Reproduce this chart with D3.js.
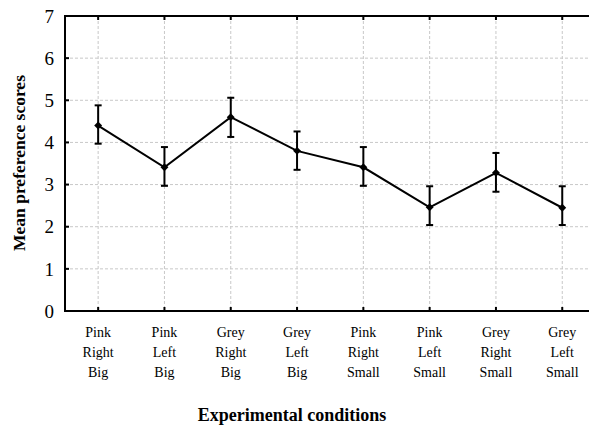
<!DOCTYPE html>
<html><head><meta charset="utf-8">
<script src="https://cdn.jsdelivr.net/npm/d3@7"></script>
<style>body{margin:0;background:#fff}svg{display:block}text{font-family:'Liberation Serif','Times New Roman',serif}</style>
</head><body>
<svg id="c" width="589" height="426"></svg>
<script>
const categories = [
  ["Pink","Right","Big"],["Pink","Left","Big"],["Grey","Right","Big"],["Grey","Left","Big"],
  ["Pink","Right","Small"],["Pink","Left","Small"],["Grey","Right","Small"],["Grey","Left","Small"]
];
const means = [4.40, 3.41, 4.60, 3.80, 3.41, 2.46, 3.28, 2.45];
const upper = [4.88, 3.89, 5.06, 4.26, 3.89, 2.96, 3.75, 2.96];
const lower = [3.97, 2.97, 4.13, 3.35, 2.97, 2.04, 2.83, 2.04];
const yTicks = [0,1,2,3,4,5,6,7];
const xTitle = "Experimental conditions";
const yTitle = "Mean preference scores";

const svg = d3.select("#c");
const L = 65, T = 16, B = 311;
const keys = categories.map((c,i)=>i);
const x = d3.scalePoint().domain(keys).range([L, L + 8*66.3]).padding(0.5);
const y = d3.scaleLinear().domain([0,7]).range([B, T]);
const R = 600;

// grid
const g = svg.append("g").attr("stroke","#c8c8c8").attr("stroke-width",1).attr("stroke-dasharray","3,2");
yTicks.slice(1,7).forEach(v=>g.append("line").attr("x1",L).attr("x2",R).attr("y1",y(v)).attr("y2",y(v)));
keys.forEach(k=>g.append("line").attr("x1",x(k)).attr("x2",x(k)).attr("y1",T).attr("y2",B));

// axes
const ax = svg.append("g").attr("stroke","#000").attr("stroke-width",2).attr("fill","none");
ax.append("line").attr("x1",L).attr("x2",L).attr("y1",T-1).attr("y2",B+1);
ax.append("line").attr("x1",L-1).attr("x2",R).attr("y1",B).attr("y2",B);
ax.append("line").attr("x1",L-1).attr("x2",R).attr("y1",T).attr("y2",T);
yTicks.forEach(v=>ax.append("line").attr("x1",L).attr("x2",L+4).attr("y1",y(v)).attr("y2",y(v)));
keys.forEach(k=>{
  ax.append("line").attr("x1",x(k)).attr("x2",x(k)).attr("y1",B).attr("y2",B-4);
  ax.append("line").attr("x1",x(k)).attr("x2",x(k)).attr("y1",T).attr("y2",T+4);
});

// y tick labels
svg.append("g").selectAll("text").data(yTicks).join("text")
  .attr("x",54).attr("y",d=>y(d)).attr("dy","0.35em").attr("text-anchor","end")
  .attr("font-size",19).text(d=>d);

// x labels
const xl = svg.append("g").attr("font-size",14).attr("text-anchor","middle");
categories.forEach((c,i)=>{
  c.forEach((s,j)=>xl.append("text").attr("x",x(i)).attr("y",337+j*20).text(s));
});

// titles
svg.append("text").attr("x",292).attr("y",421).attr("text-anchor","middle")
  .attr("font-weight","bold").attr("font-size",18).text(xTitle);
svg.append("text").attr("transform","translate(25,163) rotate(-90)").attr("text-anchor","middle")
  .attr("font-weight","bold").attr("font-size",17.5).text(yTitle);

// error bars
const eb = svg.append("g").attr("stroke","#000").attr("stroke-width",2);
keys.forEach(i=>{
  eb.append("line").attr("x1",x(i)).attr("x2",x(i)).attr("y1",y(lower[i])).attr("y2",y(upper[i]));
  eb.append("line").attr("x1",x(i)-3.5).attr("x2",x(i)+3.5).attr("y1",y(lower[i])).attr("y2",y(lower[i]));
  eb.append("line").attr("x1",x(i)-3.5).attr("x2",x(i)+3.5).attr("y1",y(upper[i])).attr("y2",y(upper[i]));
});

// line
svg.append("path").datum(keys)
  .attr("d",d3.line().x(i=>x(i)).y(i=>y(means[i])))
  .attr("fill","none").attr("stroke","#000").attr("stroke-width",2);

// markers
svg.append("g").selectAll("path").data(keys).join("path")
  .attr("transform",i=>`translate(${x(i)},${y(means[i])})`)
  .attr("d",d3.symbol(d3.symbolDiamond2,40)).attr("fill","#000");
</script>
</body></html>
